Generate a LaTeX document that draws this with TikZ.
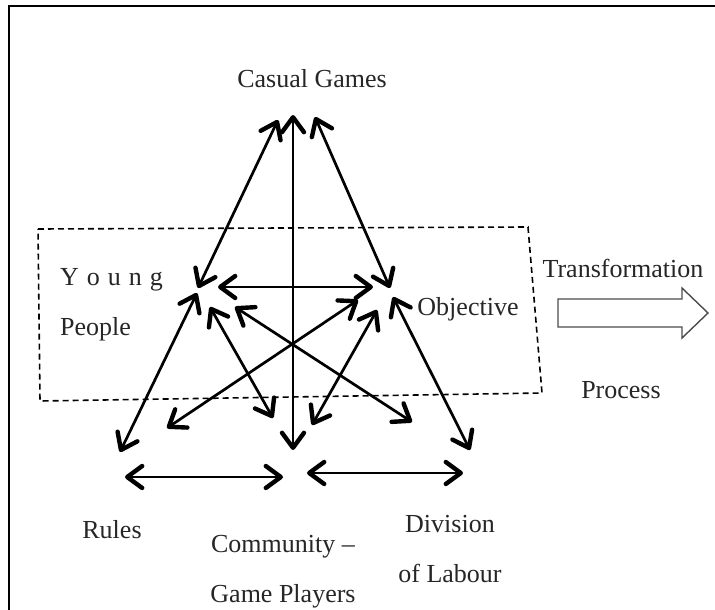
\documentclass[tikz,border=0pt]{standalone}
\usepackage{fontspec}
\setmainfont{Liberation Serif}
\usetikzlibrary{arrows.meta}
\definecolor{ink}{HTML}{262626}
\begin{document}
\begin{tikzpicture}[x=1pt,y=-1pt,
  >={Straight Barb[length=15pt,width=22pt,line width=4.4pt,round]},
  link/.style={<->,line width=2.7pt,black},
  lbl/.style={font=\fontsize{26}{30}\selectfont,text=ink,inner sep=0pt},
  frame/.style={line width=2pt,black},
  zone/.style={line width=1.6pt,dash pattern=on 6pt off 4pt,black},
  flow/.style={line width=1.4pt,draw=black!70,fill=white}]
\useasboundingbox (0,0) rectangle (715,610);
\clip (0,0) rectangle (715,610);

% outer frame (runs off the right and bottom edges)
\draw[frame] (9,640) -- (9,6) -- (740,6);

% dashed region around the middle layer
\draw[zone] (38,229) -- (528,227) -- (542,393) -- (40,401) -- cycle;

% labels
\node[lbl,anchor=base] (games) at (312,88) {Casual Games};
\node[lbl,anchor=base west] (young) at (60,285) {Y\hspace{8pt}o\hspace{8pt}u\hspace{8pt}n\hspace{8pt}g};
\node[lbl,anchor=base west] (people) at (60,335) {People};
\node[lbl,anchor=base] (objective) at (468,315) {Objective};
\node[lbl,anchor=base] (transf) at (623,277) {Transformation};
\node[lbl,anchor=base] (process) at (621,398) {Process};
\node[lbl,anchor=base] (rules) at (112,538) {Rules};
\node[lbl,anchor=base] (community) at (283,552) {Community –};
\node[lbl,anchor=base] (players) at (283,602) {Game Players};
\node[lbl,anchor=base] (division) at (450,532) {Division};
\node[lbl,anchor=base] (labour) at (450,582) {of Labour};

% arrow end points
\coordinate (gL) at (278,120);
\coordinate (gM) at (293,115);
\coordinate (gR) at (315,117);
\coordinate (yTop) at (198,288);
\coordinate (yRight) at (218,287);
\coordinate (yLow) at (197,293);
\coordinate (yX1) at (210,307);
\coordinate (yX2) at (235,307);
\coordinate (oTop) at (390,288);
\coordinate (oLeft) at (373,287);
\coordinate (oLow) at (393,297);
\coordinate (oX1) at (358,300);
\coordinate (oX2) at (377,310);
\coordinate (rTop) at (120,452);
\coordinate (rIn) at (167,428);
\coordinate (cIn1) at (273,418);
\coordinate (cBot) at (293,450);
\coordinate (cIn2) at (312,425);
\coordinate (dIn) at (412,422);
\coordinate (dTop) at (470,450);
\coordinate (rcL) at (125,477);
\coordinate (rcR) at (283,477);
\coordinate (cdL) at (307,473);
\coordinate (cdR) at (463,473);

% connectors
\draw[link] (gL) -- (yTop);
\draw[link] (gM) -- (cBot);
\draw[link] (gR) -- (oTop);
\draw[link] (yRight) -- (oLeft);
\draw[link] (yLow) -- (rTop);
\draw[link] (oLow) -- (dTop);
\draw[link] (yX1) -- (cIn1);
\draw[link] (yX2) -- (dIn);
\draw[link] (oX1) -- (rIn);
\draw[link] (oX2) -- (cIn2);
\draw[link] (rcL) -- (rcR);
\draw[link] (cdL) -- (cdR);

% block arrow for the transformation process
\draw[flow] (558,299) -- (682,299) -- (682,288) -- (708,313) -- (682,338) -- (682,327) -- (558,327) -- cycle;
\end{tikzpicture}
\end{document}
